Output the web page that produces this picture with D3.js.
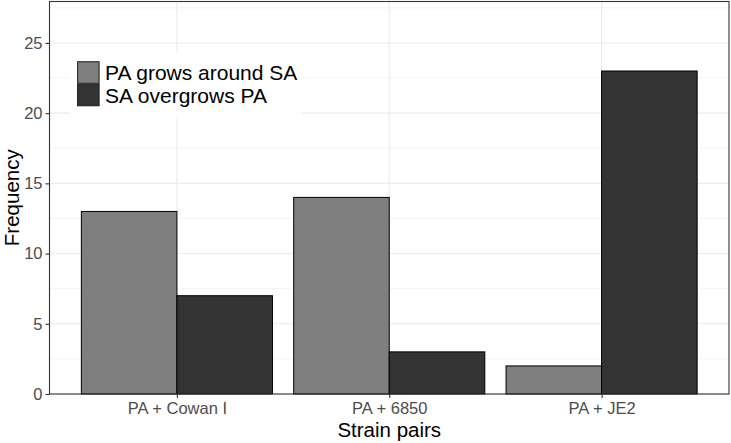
<!DOCTYPE html>
<html>
<head>
<meta charset="utf-8">
<script src="https://cdn.jsdelivr.net/npm/d3@7"></script>
<style>
  body { margin: 0; background: #fff; }
  svg { font-family: Arial, "Liberation Sans", sans-serif; }
</style>
</head>
<body>
<div id="chart"></div>
<script>
// Data
var strainPairs = ["PA + Cowan I", "PA + 6850", "PA + JE2"];
var outcomes = ["PA grows around SA", "SA overgrows PA"];
var growsAround = [13, 14, 2];
var overgrows = [7, 3, 23];
var yTicks = [0, 5, 10, 15, 20, 25];
var yMinor = [2.5, 7.5, 12.5, 17.5, 22.5, 27.5];
var fillColours = ["#7f7f7f", "#333333"];

var svgWidth = 731;
var svgHeight = 443;

// Panel position
var margin = { top: 1.5, right: 2, bottom: 49, left: 49.5 };
var width = svgWidth - margin.left - margin.right;
var height = svgHeight - margin.top - margin.bottom;

var svg = d3.select("#chart")
  .append("svg")
  .attr("width", svgWidth)
  .attr("height", svgHeight);

var chartGroup = svg.append("g")
  .attr("transform", `translate(${margin.left}, ${margin.top})`);

// Discrete x scale with ggplot-like 0.6 expansion on each side
var xCenter = d3.scaleLinear()
  .domain([0.4, strainPairs.length + 0.6])
  .range([0, width]);

var yScale = d3.scaleLinear()
  .domain([0, 27.95])
  .range([height, 0]);

// Grid lines
chartGroup.selectAll(".minor")
  .data(yMinor)
  .enter()
  .append("line")
  .attr("x1", 0).attr("x2", width)
  .attr("y1", d => yScale(d)).attr("y2", d => yScale(d))
  .attr("stroke", "#ebebeb")
  .attr("stroke-width", 0.6);

chartGroup.selectAll(".major")
  .data(yTicks)
  .enter()
  .append("line")
  .attr("x1", 0).attr("x2", width)
  .attr("y1", d => yScale(d)).attr("y2", d => yScale(d))
  .attr("stroke", "#ebebeb")
  .attr("stroke-width", 1.1);

chartGroup.selectAll(".vgrid")
  .data(strainPairs)
  .enter()
  .append("line")
  .attr("x1", (d, i) => xCenter(i + 1)).attr("x2", (d, i) => xCenter(i + 1))
  .attr("y1", 0).attr("y2", height)
  .attr("stroke", "#ebebeb")
  .attr("stroke-width", 1.1);

// Bars (dodged, total width 0.9)
var barData = [];
strainPairs.forEach(function (pair, i) {
  barData.push({ pos: i + 1, k: 0, value: growsAround[i] });
  barData.push({ pos: i + 1, k: 1, value: overgrows[i] });
});

var half = xCenter(1.45) - xCenter(1);

chartGroup.selectAll(".bar")
  .data(barData)
  .enter()
  .append("rect")
  .attr("x", d => xCenter(d.pos) - half + d.k * half)
  .attr("y", d => yScale(d.value))
  .attr("width", half)
  .attr("height", d => yScale(0) - yScale(d.value))
  .attr("fill", d => fillColours[d.k])
  .attr("stroke", "#000")
  .attr("stroke-width", 1);

// Legend inside panel
var legend = chartGroup.append("g")
  .attr("transform", `translate(${xCenter(0.497)}, ${yScale(24.3)})`);

legend.append("rect")
  .attr("x", 0).attr("y", 0)
  .attr("width", 232).attr("height", 64)
  .attr("fill", "#fff");

outcomes.forEach(function (name, k) {
  legend.append("rect")
    .attr("x", 7.5).attr("y", 9 + k * 22.5)
    .attr("width", 21.5).attr("height", 21.5)
    .attr("fill", fillColours[k])
    .attr("stroke", "#1a1a1a")
    .attr("stroke-width", 1);
  legend.append("text")
    .attr("x", 35)
    .attr("y", 20 + k * 22.5)
    .attr("dy", "0.36em")
    .attr("font-size", 21)
    .attr("fill", "#000")
    .text(name);
});

// Panel border
chartGroup.append("rect")
  .attr("x", 0).attr("y", 0)
  .attr("width", width).attr("height", height)
  .attr("fill", "none")
  .attr("stroke", "#333333")
  .attr("stroke-width", 1.1);

// Axes
var yAxis = chartGroup.append("g")
  .call(d3.axisLeft(yScale).tickValues(yTicks).tickSize(4).tickPadding(3));

var xAxis = chartGroup.append("g")
  .attr("transform", `translate(0, ${height})`)
  .call(d3.axisBottom(xCenter)
    .tickValues([1, 2, 3])
    .tickFormat(d => strainPairs[d - 1])
    .tickSize(4)
    .tickPadding(4));

[xAxis, yAxis].forEach(function (ax) {
  ax.select(".domain").remove();
  ax.selectAll(".tick line").attr("stroke", "#333333").attr("stroke-width", 1.1);
  ax.selectAll(".tick text")
    .attr("fill", "#4d4d4d")
    .attr("font-size", 16.5)
    .attr("font-family", "Arial, 'Liberation Sans', sans-serif");
});

// Axis titles
svg.append("text")
  .attr("x", margin.left + width / 2)
  .attr("y", svgHeight - 6)
  .attr("text-anchor", "middle")
  .attr("font-size", 20.5)
  .attr("fill", "#000")
  .text("Strain pairs");

svg.append("text")
  .attr("transform", `translate(19, ${margin.top + height / 2}) rotate(-90)`)
  .attr("text-anchor", "middle")
  .attr("font-size", 20.5)
  .attr("fill", "#000")
  .text("Frequency");
</script>
</body>
</html>
